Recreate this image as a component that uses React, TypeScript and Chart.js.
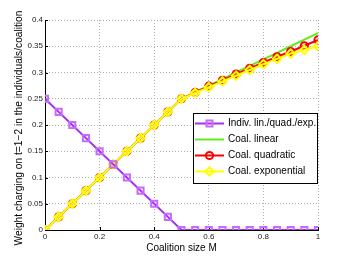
import React, { useEffect, useRef } from "react";
import { Chart, registerables } from "chart.js";

Chart.register(...registerables);

const xs = [0, 0.05, 0.1, 0.15, 0.2, 0.25, 0.3, 0.35, 0.4, 0.45, 0.5, 0.55, 0.6, 0.65, 0.7, 0.75, 0.8, 0.85, 0.9, 0.95, 1];
const indivValues = [0.25, 0.225, 0.2, 0.175, 0.15, 0.125, 0.1, 0.075, 0.05, 0.025, 0, 0, 0, 0, 0, 0, 0, 0, 0, 0, 0];
const coalLinear = [0, 0.025, 0.05, 0.075, 0.1, 0.125, 0.15, 0.175, 0.2, 0.225, 0.25, 0.2625, 0.275, 0.2875, 0.3, 0.3125, 0.325, 0.3375, 0.35, 0.3625, 0.375];
const coalQuadratic = [0, 0.025, 0.05, 0.075, 0.1, 0.125, 0.15, 0.175, 0.2, 0.225, 0.25, 0.262, 0.274, 0.285, 0.297, 0.308, 0.319, 0.33, 0.34, 0.351, 0.362];
const coalExponential = [0, 0.025, 0.05, 0.075, 0.1, 0.125, 0.15, 0.175, 0.2, 0.225, 0.25, 0.261, 0.272, 0.283, 0.294, 0.305, 0.316, 0.326, 0.336, 0.343, 0.35];
const xTicks = [0, 0.2, 0.4, 0.6, 0.8, 1];
const yTicks = [0, 0.05, 0.1, 0.15, 0.2, 0.25, 0.3, 0.35, 0.4];
const legendLabels = ["Indiv. lin./quad./exp.", "Coal. linear", "Coal. quadratic", "Coal. exponential"];
const xTitle = "Coalition size M";
const yTitle = "Weight charging on t=1\u22122 in the individuals/coalition";

const FONT = '"Liberation Sans", Arial, Helvetica, sans-serif';
const PURPLE = "#a52ff0";
const PURPLE_MK = "#c56bff";
const GREEN = "#5fec1c";
const RED = "#ff0000";
const YELLOW = "#ffff00";

const toPts = (vals: number[]) => vals.map((v, i) => ({ x: xs[i], y: v }));

function drawMarker(ctx: CanvasRenderingContext2D, kind: string, x: number, y: number, color: string) {
  ctx.save();
  ctx.strokeStyle = color;
  ctx.lineWidth = 2;
  ctx.beginPath();
  if (kind === "rect") {
    ctx.rect(x - 3, y - 3, 6, 6);
  } else if (kind === "circle") {
    ctx.arc(x, y, 3.6, 0, Math.PI * 2);
  } else if (kind === "diamond") {
    ctx.moveTo(x, y - 4.2);
    ctx.lineTo(x + 4.2, y);
    ctx.lineTo(x, y + 4.2);
    ctx.lineTo(x - 4.2, y);
    ctx.closePath();
  }
  ctx.stroke();
  ctx.restore();
}

const tickMarkPlugin = {
  id: "innerTicks",
  beforeDatasetsDraw(chart: any) {
    const ctx = chart.ctx as CanvasRenderingContext2D;
    const { left, bottom } = chart.chartArea;
    const xs_ = chart.scales.x;
    const ys_ = chart.scales.y;
    ctx.save();
    ctx.strokeStyle = "#000";
    ctx.lineWidth = 1;
    ctx.beginPath();
    xTicks.forEach((v) => {
      const px = Math.round(xs_.getPixelForValue(v)) + 0.5;
      ctx.moveTo(px, bottom);
      ctx.lineTo(px, bottom - 3);
    });
    yTicks.forEach((v) => {
      const py = Math.round(ys_.getPixelForValue(v)) + 0.5;
      ctx.moveTo(left, py);
      ctx.lineTo(left + 3, py);
    });
    ctx.stroke();
    ctx.restore();
  },
};

const overlayPlugin = {
  id: "overlay",
  afterDraw(chart: any) {
    const ctx = chart.ctx as CanvasRenderingContext2D;
    ctx.save();
    // y-axis title
    ctx.save();
    ctx.translate(19.5, 128);
    ctx.rotate(-Math.PI / 2);
    ctx.fillStyle = "#000";
    ctx.font = `10.2px ${FONT}`;
    ctx.textAlign = "center";
    ctx.textBaseline = "middle";
    ctx.fillText(yTitle, 0, 0);
    ctx.restore();
    // legend
    const bx = 193.5, by = 113.5, bw = 124, bh = 70;
    ctx.fillStyle = "#ffffff";
    ctx.fillRect(bx, by, bw, bh);
    ctx.strokeStyle = "#000000";
    ctx.lineWidth = 1;
    ctx.strokeRect(bx, by, bw, bh);
    const items = [
      { color: PURPLE, mk: "rect", mkColor: PURPLE_MK },
      { color: GREEN, mk: "", mkColor: GREEN },
      { color: RED, mk: "circle", mkColor: RED },
      { color: YELLOW, mk: "diamond", mkColor: YELLOW },
    ];
    items.forEach((it, i) => {
      const y = 123.5 + i * 16;
      ctx.strokeStyle = it.color;
      ctx.lineWidth = 2;
      ctx.beginPath();
      ctx.moveTo(195, y);
      ctx.lineTo(224, y);
      ctx.stroke();
      if (it.mk) drawMarker(ctx, it.mk, 209.5, y, it.mkColor);
      ctx.fillStyle = "#000000";
      ctx.font = `10px ${FONT}`;
      ctx.textBaseline = "middle";
      ctx.textAlign = "left";
      ctx.fillText(legendLabels[i], 228, y);
    });
    ctx.restore();
  },
};

export default function App() {
  const ref = useRef<HTMLCanvasElement | null>(null);
  useEffect(() => {
    document.body.style.margin = "0";
    if (!ref.current) return;
    const chart = new Chart(ref.current, {
      type: "line",
      data: {
        datasets: [
          {
            label: legendLabels[0],
            data: toPts(indivValues),
            borderColor: PURPLE,
            borderWidth: 2,
            pointStyle: "rect",
            pointRadius: 4.3,
            pointBorderColor: PURPLE_MK,
            pointBackgroundColor: "rgba(0,0,0,0)",
            pointBorderWidth: 2,
            order: 0,
          },
          {
            label: legendLabels[1],
            data: toPts(coalLinear),
            borderColor: GREEN,
            borderWidth: 2,
            pointRadius: 0,
            order: 3,
          },
          {
            label: legendLabels[2],
            data: toPts(coalQuadratic),
            borderColor: RED,
            borderWidth: 2,
            pointStyle: "circle",
            pointRadius: 3.6,
            pointBorderColor: RED,
            pointBackgroundColor: "rgba(0,0,0,0)",
            pointBorderWidth: 2,
            order: 2,
          },
          {
            label: legendLabels[3],
            data: toPts(coalExponential),
            borderColor: YELLOW,
            borderWidth: 2,
            pointStyle: "rectRot",
            pointRadius: 4.2,
            pointBorderColor: YELLOW,
            pointBackgroundColor: "rgba(0,0,0,0)",
            pointBorderWidth: 2,
            order: 1,
          },
        ],
      },
      options: {
        responsive: false,
        animation: false,
        events: [],
        layout: { padding: { left: 0, right: 32, top: 20, bottom: 0 } },
        plugins: { legend: { display: false }, tooltip: { enabled: false } },
        scales: {
          x: {
            type: "linear",
            min: 0,
            max: 1,
            afterBuildTicks: (s: any) => {
              s.ticks = xTicks.map((v) => ({ value: v }));
            },
            afterFit: (s: any) => {
              s.height = 29;
            },
            ticks: {
              font: { family: FONT, size: 8 },
              color: "#222",
              padding: 2,
              maxRotation: 0,
              callback: (v: any) => String(v),
            },
            grid: { color: "#b0b0b0", drawTicks: false, lineWidth: 1 },
            border: { display: true, color: "#000", width: 1, dash: [1, 2] },
            title: {
              display: true,
              text: xTitle,
              font: { family: FONT, size: 10 },
              color: "#000",
              padding: { top: 0, bottom: 5 },
            },
          },
          y: {
            type: "linear",
            min: 0,
            max: 0.4,
            afterBuildTicks: (s: any) => {
              s.ticks = yTicks.map((v) => ({ value: v }));
            },
            afterFit: (s: any) => {
              s.width = 45;
            },
            ticks: {
              font: { family: FONT, size: 8 },
              color: "#222",
              padding: 2,
              callback: (v: any) => String(v),
            },
            grid: { color: "#b0b0b0", drawTicks: false, lineWidth: 1 },
            border: { display: true, color: "#000", width: 1, dash: [1, 2] },
          },
        },
      },
      plugins: [tickMarkPlugin, overlayPlugin],
    });
    return () => chart.destroy();
  }, []);
  return <canvas ref={ref} width={350} height={259} style={{ display: "block" }} />;
}
